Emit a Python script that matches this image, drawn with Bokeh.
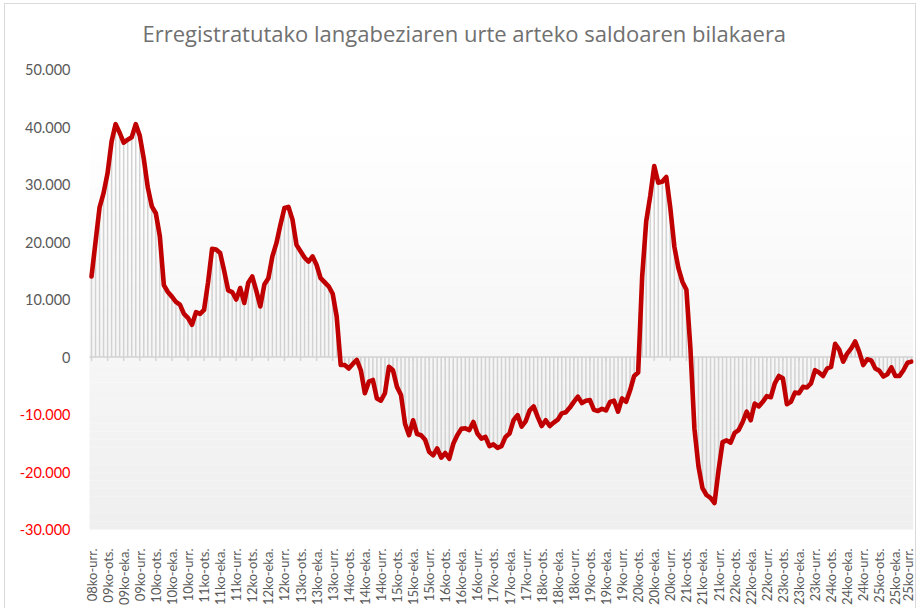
import numpy as np
from bokeh.plotting import figure
from bokeh.models import ColumnDataSource, BoxAnnotation, FixedTicker, Range1d
from bokeh.core.properties import value
from bokeh.embed import file_html
from bokeh.resources import INLINE

title_text = "Erregistratutako langabeziaren urte arteko saldoaren bilakaera"

# monthly series, 2008-10 (08ko-urr.) ... 2025-10 (25ko-urr.)
start_year = 2008
start_month = 10
month_abbr = ["urt.", "ots.", "mar.", "api.", "mai.", "eka.",
              "uzt.", "abu.", "ira.", "urr.", "aza.", "abe."]

saldoa = [
    14000, 20000, 26000, 28500, 32000, 37500, 40500, 39000, 37300, 37800,
    38200, 40500, 38500, 34500, 29500, 26200, 25000, 21000, 12500, 11300,
    10500, 9600, 9100, 7500, 6800, 5600, 7800, 7500, 8200, 13000,
    18800, 18700, 18100, 15000, 11600, 11300, 10000, 12000, 9400, 12900,
    14000, 11500, 8800, 12600, 13700, 17500, 19800, 23000, 25900, 26100,
    23900, 19500, 18400, 17300, 16600, 17500, 16000, 13700, 13000, 12300,
    11000, 7000, -1400, -1400, -2000, -1200, -500, -2300, -6300, -4300,
    -4000, -7200, -7600, -6300, -1700, -2300, -5200, -6600, -11600, -13600,
    -11000, -13400, -13600, -14400, -16500, -17100, -15900, -17500, -16700, -17700,
    -15100, -13600, -12500, -12400, -12700, -11300, -13300, -14200, -13900, -15500,
    -15200, -15800, -15500, -13900, -13300, -11000, -10100, -12100, -11200, -9300,
    -8600, -10400, -12000, -11000, -12000, -11400, -10900, -9800, -9600, -8800,
    -7800, -6900, -8000, -7600, -7500, -9200, -9400, -9000, -9300, -7800,
    -7600, -9500, -7200, -7800, -5800, -3300, -2700, 14000, 23600, 28000,
    33200, 30300, 30500, 31300, 25900, 19200, 15500, 13100, 11700, 1500,
    -12500, -19000, -22800, -24000, -24500, -25400, -19700, -14800, -14500, -14900,
    -13200, -12700, -11300, -9500, -11000, -8100, -8600, -7800, -6800, -7000,
    -4600, -3300, -3700, -8200, -7800, -6200, -6300, -5200, -5300, -4600,
    -2300, -2700, -3300, -2000, -1700, 2300, 1300, -800, 600, 1500,
    2700, 900, -1400, -400, -600, -2000, -2400, -3400, -3000, -1800,
    -3300, -3300, -2300, -1000, -800,
]

y_ticks = [-30000, -20000, -10000, 0, 10000, 20000, 30000, 40000, 50000]
y_min, y_max = -30000, 50000
label_every = 4

# category labels
month_labels = []
for i in range(len(saldoa)):
    m0 = start_month - 1 + i
    yy = (start_year + m0 // 12) % 100
    month_labels.append(f"{yy:02d}ko-{month_abbr[m0 % 12]}")

xs = list(range(len(saldoa)))
n = len(saldoa)

FONT = "Lato"
GRAY = "#595959"

# geometry (pixels)
PLOT_W, PLOT_H = 824, 460          # visible plot area
LEFT_GUTTER = 84                   # room for the value labels, inside the frame
PAD_TOP, PAD_BOT = 12, 7           # frame padding so edge labels are not clipped
px_x = PLOT_W / n
px_y = PLOT_H / (y_max - y_min)
x0 = -0.5 - LEFT_GUTTER / px_x
x1 = n - 0.5

p = figure(frame_width=PLOT_W + LEFT_GUTTER, frame_height=PLOT_H + PAD_TOP + PAD_BOT,
           output_backend="svg", toolbar_location=None,
           x_range=Range1d(x0, x1),
           y_range=Range1d(y_min - PAD_BOT / px_y, y_max + PAD_TOP / px_y),
           min_border_left=0, min_border_right=2, min_border_top=53,
           min_border_bottom=72)
p.styles = {"border-top": "1px solid #d9d9d9", "border-left": "1px solid #d9d9d9",
            "border-right": "1px solid #d9d9d9", "margin-left": "4px",
            "margin-top": "3px"}
p.outline_line_color = None
p.xgrid.visible = False
p.ygrid.visible = False
p.yaxis.visible = False
p.background_fill_color = "white"
p.border_fill_color = "white"

p.title.text = title_text
p.title.align = "left"
p.title.offset = 137
p.title.standoff = 20
p.title.text_font = "Open Sans"
p.title.text_font_size = "22px"
p.title.text_font_style = "normal"
p.title.text_color = "#707070"

# background gradient of the plot area
top_val = 41000
nb = 50
edges = np.linspace(top_val, y_min, nb + 1)
for k in range(nb):
    t = (k + 0.5) / nb
    c = int(round(255 - t * (255 - 239)))
    p.add_layout(BoxAnnotation(top=edges[k], bottom=edges[k + 1], left=-0.5, right=x1,
                               fill_color=f"#{c:02x}{c:02x}{c:02x}", fill_alpha=1.0,
                               line_color=None, level="underlay"))

src = ColumnDataSource(dict(x=xs, y=saldoa, zero=[0] * n))

# drop lines
p.segment(x0="x", y0="zero", x1="x", y1="y", source=src,
          line_color="#d2d2d2", line_width=1.5)

# zero axis line and its ticks
p.segment(x0=[-0.5], y0=[0], x1=[x1], y1=[0], line_color="#d2d2d2", line_width=1.5)
tick_len = 4 / px_y
tick_x = xs[::label_every]
p.segment(x0=tick_x, y0=[0] * len(tick_x), x1=tick_x, y1=[-tick_len] * len(tick_x),
          line_color="#d2d2d2", line_width=1.3)

# main series
p.line("x", "y", source=src, line_color="#c00000", line_width=4.6,
       line_join="round", line_cap="round")

# x axis
p.xaxis.ticker = FixedTicker(ticks=tick_x)
p.xaxis.major_label_overrides = {i: month_labels[i] for i in tick_x}
p.xaxis.major_label_orientation = np.pi / 2
p.xaxis.axis_line_color = None
p.xaxis.major_tick_line_color = None
p.xaxis.minor_tick_line_color = None
p.xaxis.major_label_text_font = FONT
p.xaxis.major_label_text_font_size = "13px"
p.xaxis.major_label_text_color = GRAY
p.xaxis.major_label_standoff = 6

# value labels (negatives in red)
ylab = ColumnDataSource(dict(
    x=[-0.5] * len(y_ticks), y=y_ticks,
    text=[f"{v:,}".replace(",", ".") for v in y_ticks],
    color=["#ff0000" if v < 0 else GRAY for v in y_ticks]))
p.text(x="x", y="y", text="text", source=ylab, text_color="color",
       x_offset=-19, text_align="right", text_baseline="middle",
       text_font=value(FONT), text_font_size="14.5px")

open("out.html", "w").write(file_html(p, INLINE))
